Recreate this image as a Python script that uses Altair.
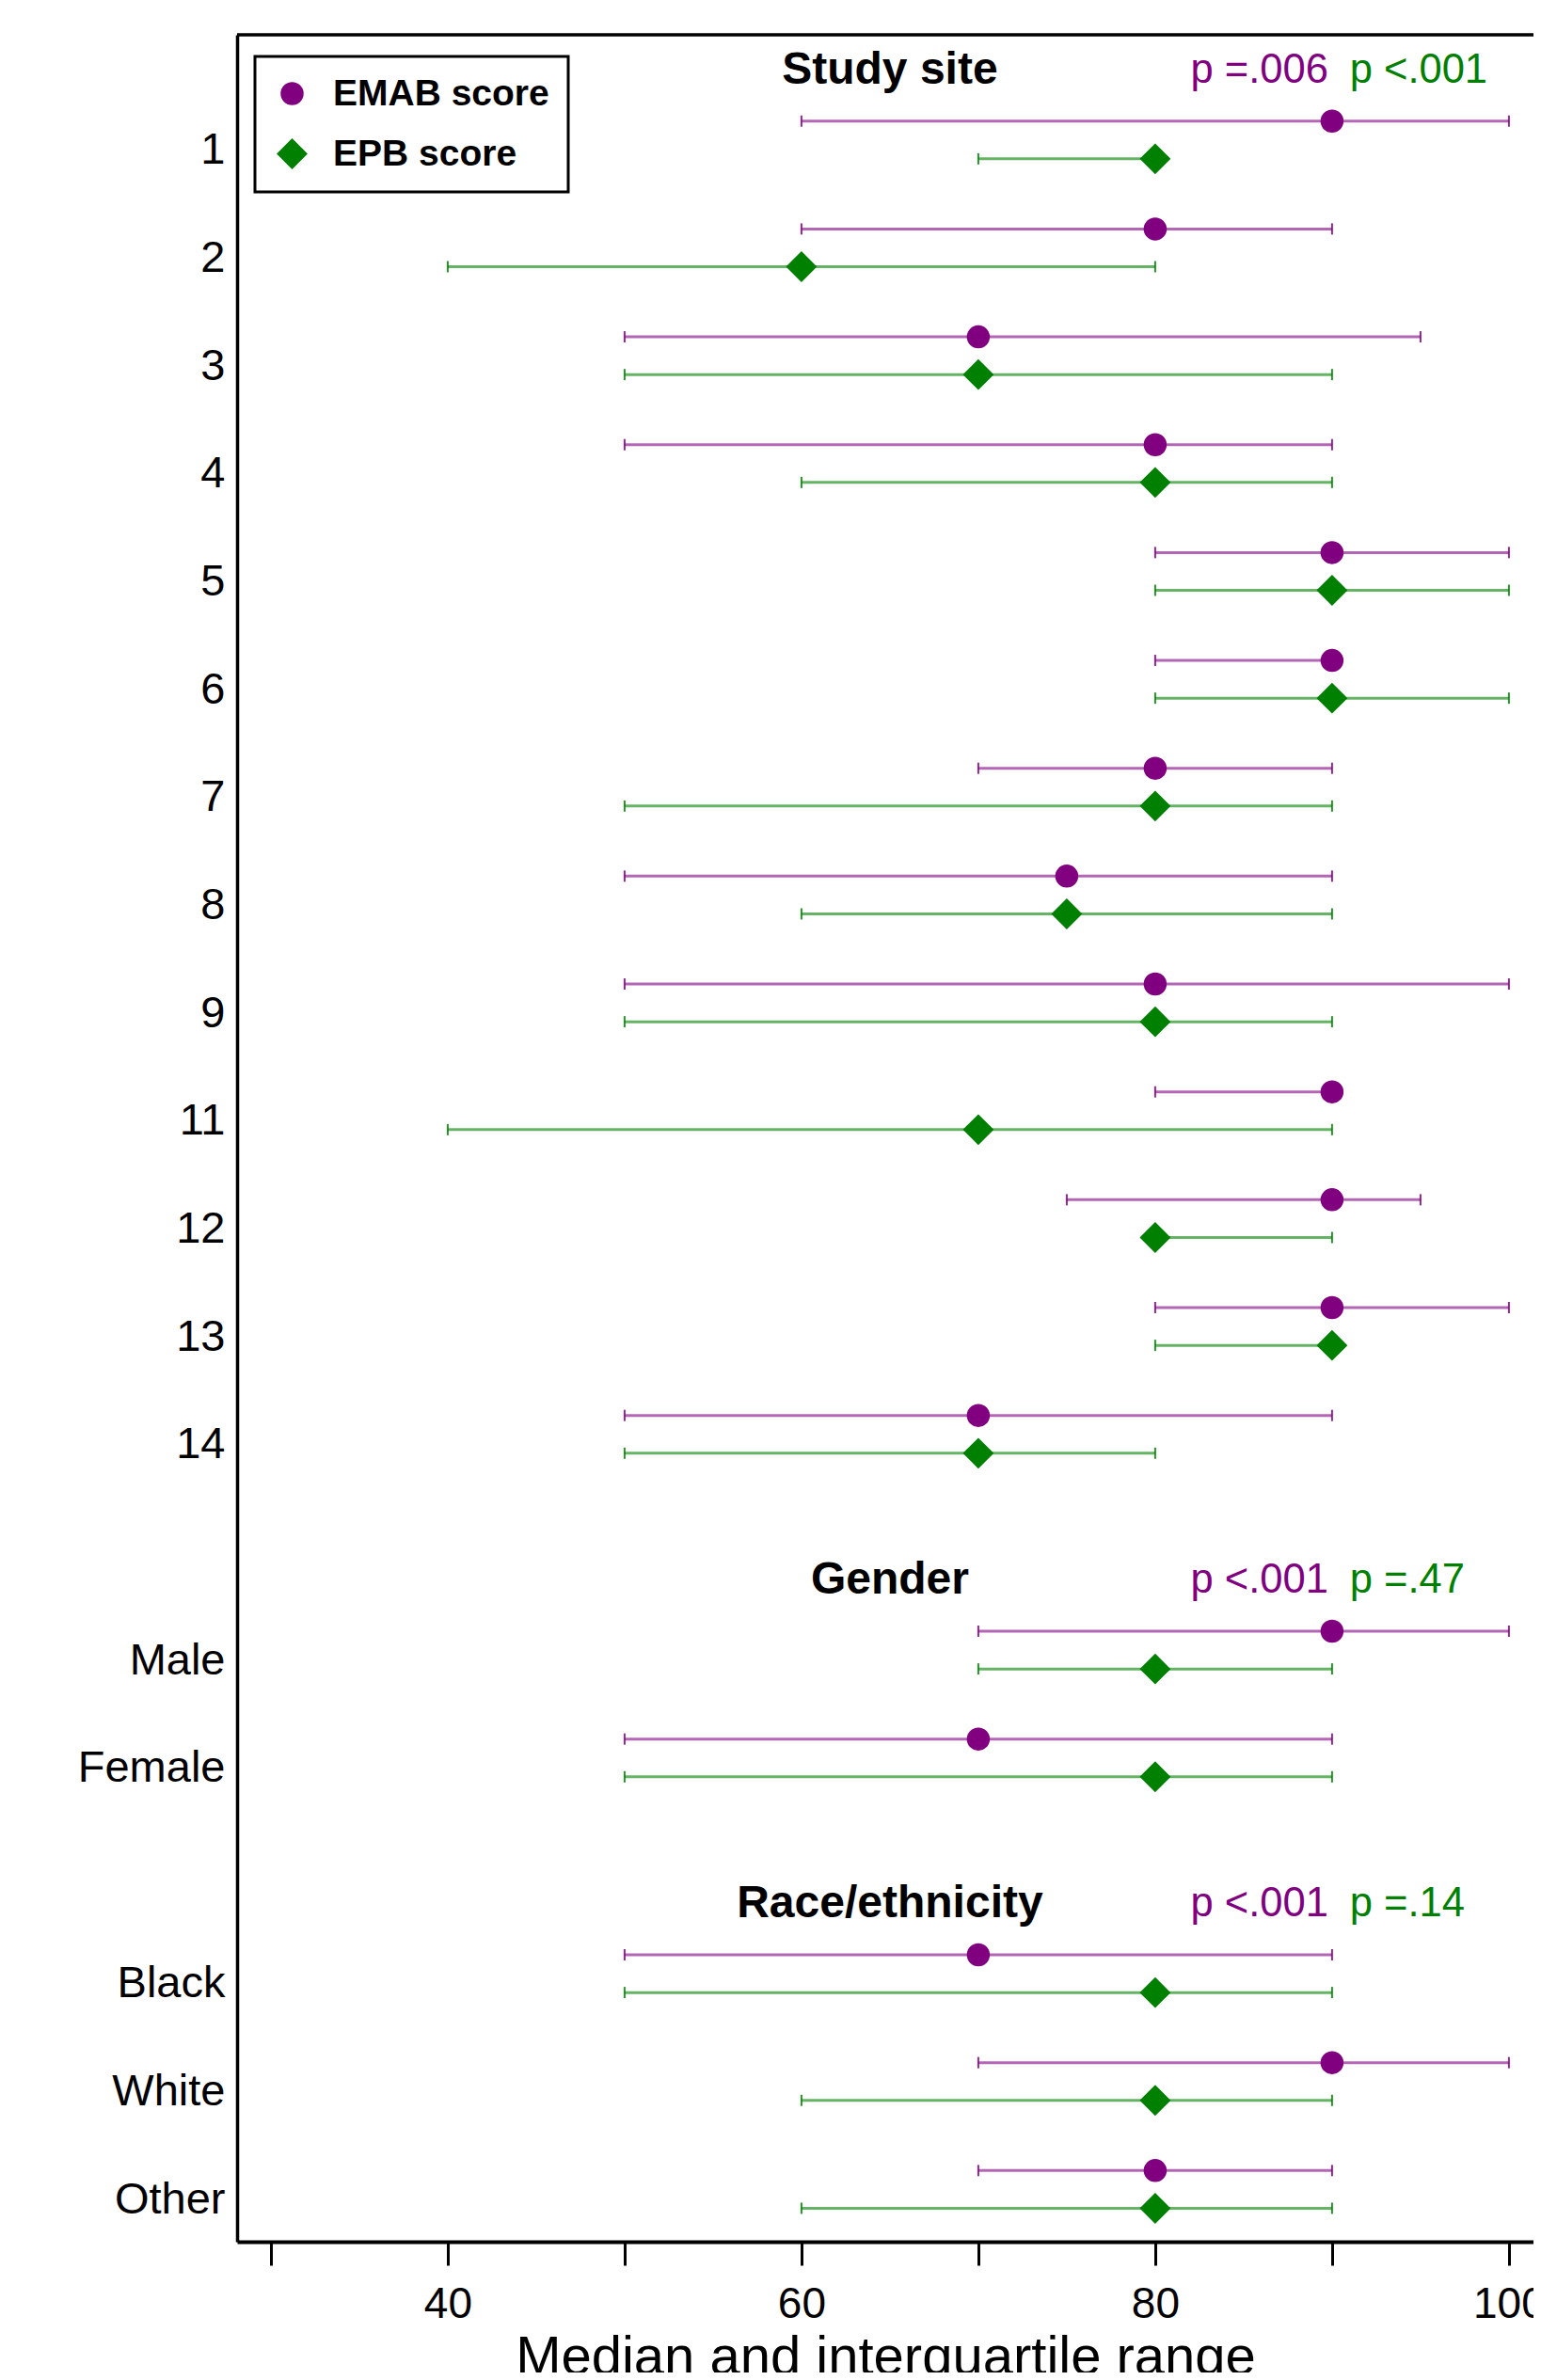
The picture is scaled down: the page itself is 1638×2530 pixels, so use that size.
import altair as alt
import pandas as pd

FONT = "Liberation Sans, Arial, Helvetica, sans-serif"

# ---- data ----
row_labels = ["1", "2", "3", "4", "5", "6", "7", "8", "9", "11", "12", "13", "14",
              "Male", "Female", "Black", "White", "Other"]
row_pos = [0, 1, 2, 3, 4, 5, 6, 7, 8, 9, 10, 11, 12, 14, 15, 17, 18, 19]

emab_med = [90, 80, 70, 80, 90, 90, 80, 75, 80, 90, 90, 90, 70, 90, 70, 70, 90, 80]
emab_q1 = [60, 60, 50, 50, 80, 80, 70, 50, 50, 80, 75, 80, 50, 70, 50, 50, 70, 70]
emab_q3 = [100, 90, 95, 90, 100, 90, 90, 90, 100, 90, 95, 100, 90, 100, 90, 90, 100, 90]

epb_med = [80, 60, 70, 80, 90, 90, 80, 75, 80, 70, 80, 90, 70, 80, 80, 80, 80, 80]
epb_q1 = [70, 40, 50, 60, 80, 80, 50, 60, 50, 40, 80, 80, 50, 70, 50, 50, 60, 60]
epb_q3 = [80, 80, 90, 90, 100, 100, 90, 90, 90, 90, 90, 90, 80, 90, 90, 90, 90, 90]

group_titles = ["Study site", "Gender", "Race/ethnicity"]
group_first_pos = [0, 14, 17]
p_emab = ["p =.006", "p <.001", "p <.001"]
p_epb = ["p <.001", "p =.47", "p =.14"]

series_names = ["EMAB score", "EPB score"]
series_colors = ["#800080", "#008000"]
series_shapes = ["circle", "diamond"]
series_sizes = [600, 1080]

x_ticks = [30, 40, 50, 60, 70, 80, 90, 100]
XTITLE = "Median and interquartile range"

# ---- build tables ----
recs = []
for i, lab in enumerate(row_labels):
    recs.append(dict(label=lab, series=series_names[0], med=emab_med[i],
                     q1=emab_q1[i], q3=emab_q3[i], y=row_pos[i]))
    recs.append(dict(label=lab, series=series_names[1], med=epb_med[i],
                     q1=epb_q1[i], q3=epb_q3[i], y=row_pos[i] + 0.35))
df = pd.DataFrame(recs)

gdf = pd.DataFrame(dict(title=group_titles, p1=p_emab, p2=p_epb,
                        y=[p - 0.47 for p in group_first_pos]))

W, H = 1378, 2346
XMIN = 28.09
XMAX = XMIN + W / 18.8

xscale = alt.Scale(domain=[XMIN, XMAX], nice=False, zero=False)
xaxis = alt.Axis(values=x_ticks, labelExpr="datum.value % 20 == 0 ? datum.label : ''",
                 tickSize=25, tickWidth=3, tickColor="black", domainWidth=4,
                 domainColor="black", labelFontSize=46, labelColor="black",
                 labelPadding=19, labelFlush=False, labelFont=FONT,
                 titleFont=FONT, titleFontSize=58, titleFontWeight="normal",
                 titleColor="black", titlePadding=5, grid=False)

lab_by_pos = [""] * 20
for p, l in zip(row_pos, row_labels):
    lab_by_pos[p] = l
label_expr = "[" + ",".join("'" + s + "'" for s in lab_by_pos) + "][datum.value]"

yscale = alt.Scale(domain=[-0.80, 19.66], reverse=True, nice=False, zero=False)
yaxis = alt.Axis(values=row_pos, labelExpr=label_expr, ticks=False, domainWidth=3.5,
                 domainColor="black", labelFontSize=47, labelColor="black",
                 labelPadding=13, labelOffset=31, labelFont=FONT, grid=False,
                 labelOverlap=False, labelBound=False)


def X(field):
    return alt.X(field, type="quantitative", scale=xscale, axis=xaxis, title=XTITLE)


def Y():
    return alt.Y("y:Q", scale=yscale, axis=yaxis, title=None)


color_enc = alt.Color("series:N", scale=alt.Scale(domain=series_names, range=series_colors),
                      title=None)

base = alt.Chart(df)

lines = base.mark_rule(strokeWidth=3, opacity=0.6).encode(
    x=X("q1"), x2="q3", y=Y(), color=color_enc)

cap_lo = base.mark_tick(orient="vertical", size=12, thickness=2, opacity=0.85).encode(
    x=X("q1"), y=Y(), color=color_enc)
cap_hi = base.mark_tick(orient="vertical", size=12, thickness=2, opacity=0.85).encode(
    x=X("q3"), y=Y(), color=color_enc)

points = base.mark_point(filled=True, opacity=1, strokeWidth=0).encode(
    x=X("med"), y=Y(),
    color=color_enc,
    shape=alt.Shape("series:N", scale=alt.Scale(domain=series_names, range=series_shapes),
                    title=None),
    size=alt.Size("series:N", scale=alt.Scale(domain=series_names, range=series_sizes),
                  title=None),
)

gbase = alt.Chart(gdf)
headers = gbase.mark_text(font=FONT, fontSize=48, fontWeight="bold", color="black",
                          align="center", baseline="middle").encode(
    x=alt.XDatum(65, type="quantitative", scale=xscale, axis=xaxis, title=XTITLE),
    y=Y(), text="title:N")
pv1 = gbase.mark_text(font=FONT, fontSize=43.5, color=series_colors[0],
                      align="left", baseline="middle").encode(
    x=alt.XDatum(82, type="quantitative", scale=xscale, axis=xaxis, title=XTITLE),
    y=Y(), text="p1:N")
pv2 = gbase.mark_text(font=FONT, fontSize=43.5, color=series_colors[1],
                      align="left", baseline="middle").encode(
    x=alt.XDatum(91, type="quantitative", scale=xscale, axis=xaxis, title=XTITLE),
    y=Y(), text="p2:N")

frame_top = alt.Chart(pd.DataFrame({"a": [0]})).mark_rule(
    color="black", strokeWidth=3.5).encode(
    x=alt.value(0), x2=alt.value(W), y=alt.value(0))

chart = alt.layer(points, lines, cap_lo, cap_hi, headers, pv1, pv2, frame_top).properties(
    width=W, height=H,
    autosize=alt.AutoSizeParams(type="none"),
    padding={"left": 244, "top": 29, "right": 0, "bottom": 139},
    background="white",
).configure_view(strokeWidth=0).configure_legend(
    orient="none", legendX=19, legendY=23, strokeColor="black", strokeWidth=3,
    fillColor="white", padding=20, labelFontSize=39, labelFontWeight="bold",
    labelFont=FONT, labelColor="black", rowPadding=24, labelOffset=24,
    labelLimit=600, symbolStrokeWidth=0, symbolOpacity=1,
)

chart.save("out.html", embed_options={"renderer": "svg", "actions": False})
